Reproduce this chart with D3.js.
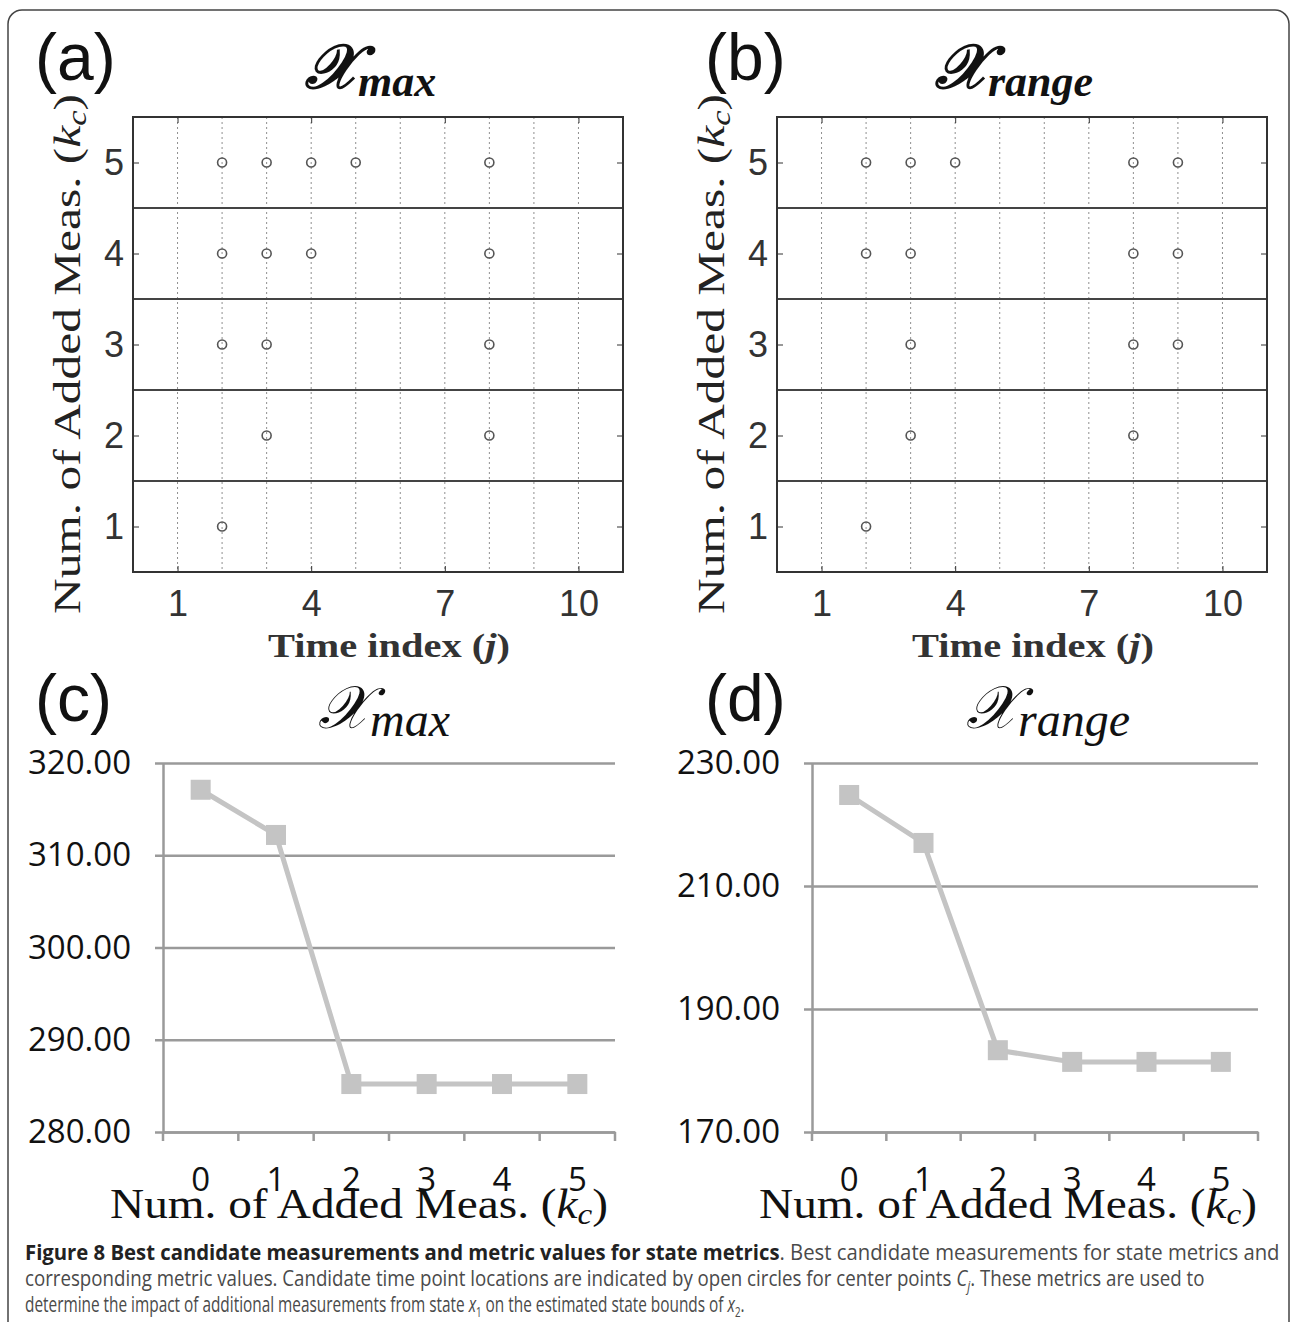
<!DOCTYPE html>
<html>
<head>
<meta charset="utf-8">
<script src="https://cdn.jsdelivr.net/npm/d3@7"></script>
<style>
body { margin: 0; background: #fff; }
</style>
</head>
<body>
<svg width="1290" height="1322"></svg>
<script>
// top panels: rows are the number of added measurements
var rowsK = [1, 2, 3, 4, 5];
var timeGrid = [1, 2, 3, 4, 5, 6, 7, 8, 9, 10];
var timeTicks = [1, 4, 7, 10];
// picked time indices for each k (index k-1)
var maxPicks = [[2], [3, 8], [2, 3, 8], [2, 3, 4, 8], [2, 3, 4, 5, 8]];
var rangePicks = [[2], [3, 8], [3, 8, 9], [2, 3, 8, 9], [2, 3, 4, 8, 9]];

// bottom panels: metric value vs number of added measurements
var addedMeas = [0, 1, 2, 3, 4, 5];
var maxValues = [317.1, 312.2, 285.2, 285.2, 285.2, 285.2];
var rangeValues = [224.8, 217.0, 183.3, 181.4, 181.4, 181.4];
var maxTicks = [280, 290, 300, 310, 320];
var rangeTicks = [170, 190, 210, 230];

var svg = d3.select("svg");
var serif = "'Liberation Serif', 'Times New Roman', serif";
var sans = "'Liberation Sans', Arial, sans-serif";
var xlSans = "'Open Sans', 'Noto Sans', sans-serif";

// outer frame
svg.append("rect")
    .attr("x", 8).attr("y", 10)
    .attr("width", 1281).attr("height", 1340)
    .attr("rx", 14)
    .attr("fill", "none")
    .attr("stroke", "#444")
    .attr("stroke-width", 1.5);

function tag(x, y, s) {
  svg.append("text")
      .attr("x", x).attr("y", y)
      .attr("font-family", sans)
      .attr("font-size", 66)
      .attr("fill", "#111")
      .text(s);
}

function title(x, y, sub, big, small, weight) {
  var t = svg.append("text")
      .attr("x", x).attr("y", y)
      .attr("font-family", serif)
      .attr("font-weight", weight)
      .attr("fill", "#111");
  t.append("tspan")
      .attr("font-size", big)
      .attr("font-style", "italic")
      .text("\u{1D4B3}");
  t.append("tspan")
      .attr("font-size", small)
      .attr("font-style", "italic")
      .attr("dy", 8)
      .text(sub);
}

function kLabel(sel, size) {
  sel.append("tspan").text("Num. of Added Meas. (");
  sel.append("tspan").attr("font-style", "italic").text("k");
  sel.append("tspan").attr("font-style", "italic")
      .attr("font-size", size * 0.7).attr("dy", 6).text("c");
  sel.append("tspan").attr("dy", -6).text(")");
}

// scatter of chosen time points
function drawScatter(left, picks) {
  var g = svg.append("g");
  var x = d3.scaleLinear().domain([0, 11]).range([left, left + 490]);
  var y = d3.scaleLinear().domain([0.5, 5.5]).range([572, 117]);

  g.selectAll(".vgrid")
    .data(timeGrid)
    .join("line")
      .attr("x1", function(d) { return x(d); })
      .attr("x2", function(d) { return x(d); })
      .attr("y1", y(5.5)).attr("y2", y(0.5))
      .attr("stroke", "#8f8f8f")
      .attr("stroke-width", 1)
      .attr("stroke-dasharray", "2,3");

  g.selectAll(".hsep")
    .data(rowsK.slice(1))
    .join("line")
      .attr("x1", x(0)).attr("x2", x(11))
      .attr("y1", function(d) { return y(d - 0.5); })
      .attr("y2", function(d) { return y(d - 0.5); })
      .attr("stroke", "#444")
      .attr("stroke-width", 2);

  var fmt = d3.format("d");
  var axes = [
    [d3.axisLeft(y).tickValues(rowsK), "translate(" + left + ",0)", true],
    [d3.axisRight(y).tickValues(rowsK), "translate(" + x(11) + ",0)", false],
    [d3.axisBottom(x).tickValues(timeTicks), "translate(0," + y(0.5) + ")", true],
    [d3.axisTop(x).tickValues(timeTicks), "translate(0," + y(5.5) + ")", false]
  ];
  axes.forEach(function(a, i) {
    var ax = g.append("g")
        .attr("transform", a[1])
        .call(a[0].tickSize(-6).tickPadding(i == 0 ? 9 : 18).tickFormat(fmt))
        .attr("font-family", sans)
        .attr("font-size", 36)
        .attr("color", "#333");
    ax.select(".domain").remove();
    if (!a[2]) ax.selectAll("text").remove();
  });

  g.append("rect")
      .attr("x", x(0)).attr("y", y(5.5))
      .attr("width", x(11) - x(0)).attr("height", y(0.5) - y(5.5))
      .attr("fill", "none")
      .attr("stroke", "#333")
      .attr("stroke-width", 2);

  var pts = [];
  picks.forEach(function(row, i) {
    row.forEach(function(j) { pts.push({k: rowsK[i], j: j}); });
  });
  g.selectAll("circle")
    .data(pts)
    .join("circle")
      .attr("cx", function(d) { return x(d.j); })
      .attr("cy", function(d) { return y(d.k); })
      .attr("r", 4.5)
      .attr("fill", "none")
      .attr("stroke", "#555")
      .attr("stroke-width", 1.6);

  // y label
  var yl = svg.append("text")
      .attr("transform", "translate(" + (left - 53) + ",354) rotate(-90)")
      .attr("text-anchor", "middle")
      .attr("font-family", serif)
      .attr("font-size", 38)
      .attr("fill", "#222")
      .attr("textLength", 520)
      .attr("lengthAdjust", "spacingAndGlyphs");
  kLabel(yl, 38);

  // x label
  var xl = svg.append("text")
      .attr("x", left + 135).attr("y", 657)
      .attr("font-family", serif)
      .attr("font-weight", "bold")
      .attr("font-size", 34)
      .attr("fill", "#333")
      .attr("textLength", 242)
      .attr("lengthAdjust", "spacingAndGlyphs");
  xl.append("tspan").text("Time index (");
  xl.append("tspan").attr("font-style", "italic").text("j");
  xl.append("tspan").text(")");
}

// excel-style line chart
function drawLine(left, right, values, ticks, domain) {
  var g = svg.append("g");
  var x = d3.scaleBand().domain(addedMeas).range([left, right]);
  var y = d3.scaleLinear().domain(domain).range([1132, 763]);

  g.append("g")
      .attr("transform", "translate(" + left + ",0)")
      .call(d3.axisLeft(y).tickValues(ticks).tickSize(-(right - left)).tickFormat(""))
      .attr("color", "#9a9a9a")
      .call(function(a) { a.select(".domain").remove(); })
      .selectAll("line").attr("stroke-width", 2.5);

  var ya = g.append("g")
      .attr("transform", "translate(" + left + ",0)")
      .call(d3.axisLeft(y).tickValues(ticks).tickSize(8).tickSizeOuter(0)
        .tickPadding(24).tickFormat(d3.format(".2f")))
      .attr("font-family", xlSans)
      .attr("font-size", 33)
      .attr("color", "#9a9a9a");
  ya.selectAll("line").attr("stroke-width", 2.5);
  ya.select(".domain").attr("stroke-width", 2.5);
  ya.selectAll("text").attr("fill", "#111");

  var xa = g.append("g")
      .attr("transform", "translate(0,1132)")
      .call(d3.axisBottom(x).tickSize(0).tickPadding(36))
      .attr("font-family", xlSans)
      .attr("font-size", 33)
      .attr("color", "#9a9a9a");
  xa.select(".domain").attr("stroke-width", 2.5);
  xa.selectAll("text").attr("fill", "#111");

  var edges = addedMeas.map(function(d) { return x(d); }).concat([x.range()[1]]);
  g.selectAll(".xt")
    .data(edges)
    .join("line")
      .attr("x1", function(d) { return d; })
      .attr("x2", function(d) { return d; })
      .attr("y1", 1132).attr("y2", 1141)
      .attr("stroke", "#9a9a9a")
      .attr("stroke-width", 2.5);

  var data = addedMeas.map(function(k, i) { return {k: k, v: values[i]}; });
  var cx = function(d) { return x(d.k) + x.bandwidth() / 2; };
  g.append("path")
      .datum(data)
      .attr("d", d3.line().x(cx).y(function(d) { return y(d.v); }))
      .attr("fill", "none")
      .attr("stroke", "#c4c4c4")
      .attr("stroke-width", 5);
  g.selectAll(".mk")
    .data(data)
    .join("rect")
      .attr("x", function(d) { return cx(d) - 10; })
      .attr("y", function(d) { return y(d.v) - 10; })
      .attr("width", 20).attr("height", 20)
      .attr("fill", "#c4c4c4");

  var xl = svg.append("text")
      .attr("x", left - 53).attr("y", 1218)
      .attr("font-family", serif)
      .attr("font-size", 42)
      .attr("fill", "#111")
      .attr("textLength", 498)
      .attr("lengthAdjust", "spacingAndGlyphs");
  kLabel(xl, 42);
}

tag(35, 80, "(a)");
tag(705, 80, "(b)");
tag(35, 721, "(c)");
tag(705, 721, "(d)");

title(305, 88, "max", 62, 44, "bold");
title(935, 88, "range", 62, 44, "bold");
title(318, 728, "max", 60, 48, "normal");
title(966, 728, "range", 60, 48, "normal");

drawScatter(133, maxPicks);
drawScatter(777, rangePicks);
drawLine(163, 615, maxValues, maxTicks, [280, 320]);
drawLine(812, 1258, rangeValues, rangeTicks, [170, 230]);

// caption, each line squeezed to the width of the condensed journal font
var cap = [
  {y: 1260, w: 1255, parts: [
    {t: "Figure 8 Best candidate measurements and metric values for state metrics", b: true},
    {t: ". Best candidate measurements for state metrics and"}]},
  {y: 1286, w: 1180, parts: [
    {t: "corresponding metric values. Candidate time point locations are indicated by open circles for center points "},
    {t: "C", i: true}, {t: "j", i: true, sub: true},
    {t: ". These metrics are used to"}]},
  {y: 1312, w: 720, parts: [
    {t: "determine the impact of additional measurements from state "},
    {t: "x", i: true}, {t: "1", sub: true},
    {t: " on the estimated state bounds of "},
    {t: "x", i: true}, {t: "2", sub: true}, {t: "."}]}
];
cap.forEach(function(line) {
  var t = svg.append("text")
      .attr("x", 0).attr("y", line.y)
      .attr("font-family", xlSans)
      .attr("font-size", 22)
      .attr("fill", "#4a4a4a");
  var down = false;
  line.parts.forEach(function(p) {
    var s = t.append("tspan").text(p.t);
    if (p.b) s.attr("font-weight", "bold").attr("fill", "#222");
    if (p.i) s.attr("font-style", "italic");
    if (p.sub && !down) { s.attr("dy", 5).attr("font-size", 14); down = true; }
    else if (!p.sub && down) { s.attr("dy", -5); down = false; }
  });
  var sx = line.w / t.node().getComputedTextLength();
  t.attr("transform", "translate(25,0) scale(" + sx + ",1)");
});
</script>
</body>
</html>
